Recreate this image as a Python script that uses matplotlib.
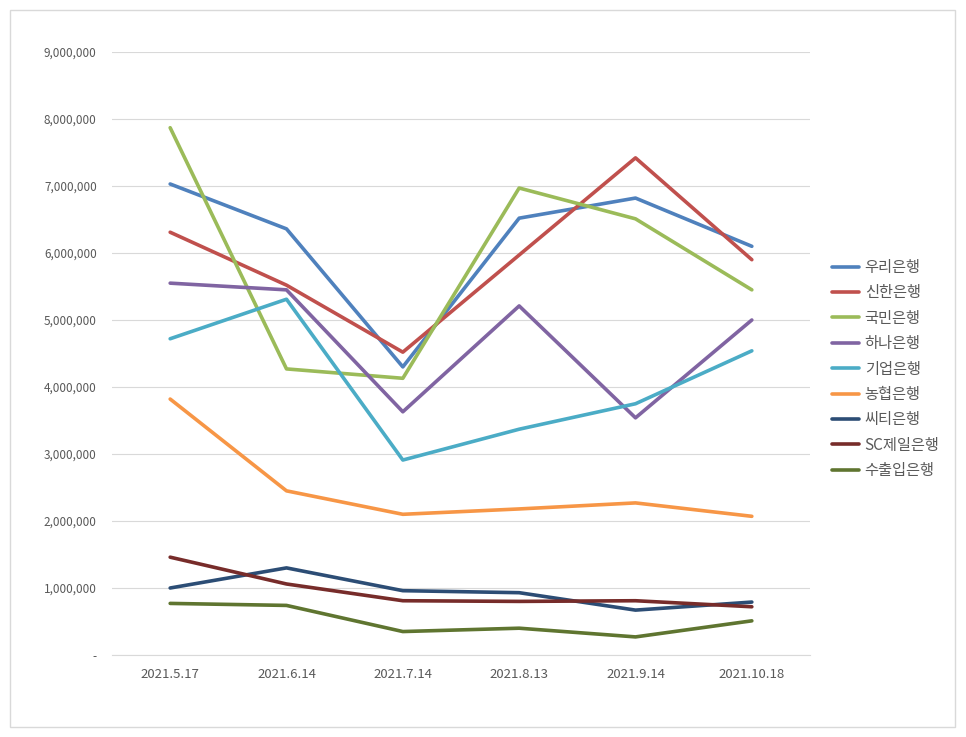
import matplotlib.pyplot as plt
from matplotlib.patches import Rectangle
from matplotlib.ticker import FuncFormatter

plt.rcParams['font.family'] = ['Noto Sans CJK KR', 'DejaVu Sans']

dates = ["2021.5.17", "2021.6.14", "2021.7.14", "2021.8.13", "2021.9.14", "2021.10.18"]
banks = ["우리은행", "신한은행", "국민은행", "하나은행", "기업은행",
         "농협은행", "씨티은행", "SC제일은행", "수출입은행"]

woori = [7030000, 6360000, 4300000, 6520000, 6820000, 6100000]
shinhan = [6310000, 5520000, 4520000, 5970000, 7420000, 5900000]
kookmin = [7870000, 4270000, 4130000, 6970000, 6510000, 5450000]
hana = [5550000, 5450000, 3630000, 5210000, 3540000, 5000000]
ibk = [4720000, 5310000, 2910000, 3370000, 3750000, 4540000]
nonghyup = [3820000, 2450000, 2100000, 2180000, 2270000, 2070000]
citi = [1000000, 1300000, 960000, 930000, 670000, 790000]
sc = [1460000, 1060000, 810000, 800000, 810000, 720000]
exim = [770000, 740000, 350000, 400000, 270000, 510000]

series = [woori, shinhan, kookmin, hana, ibk, nonghyup, citi, sc, exim]
colors = ["#4F81BD", "#C0504D", "#9BBB59", "#8064A2", "#4BACC6",
          "#F79646", "#2C4D75", "#772C2A", "#5F7530"]

fig = plt.figure(figsize=(9.66, 7.37), dpi=100)
fig.patches.append(Rectangle((10 / 966, 1 - 727 / 737), 945 / 966, 717 / 737,
                             transform=fig.transFigure, fill=False,
                             edgecolor="#D9D9D9", linewidth=1))

ax = fig.add_axes([112 / 966, 1 - 655 / 737, 698 / 966, 603 / 737])
x = range(len(dates))
for name, vals, c in zip(banks, series, colors):
    ax.plot(x, vals, color=c, linewidth=2.6, label=name, solid_capstyle="round")

ax.set_xlim(-0.5, len(dates) - 0.5)
ax.set_ylim(0, 9000000)
ax.set_yticks(range(0, 9000001, 1000000))
ax.yaxis.set_major_formatter(FuncFormatter(lambda v, p: "-" if v == 0 else f"{int(v):,}"))
ax.set_xticks(list(x))
ax.set_xticklabels(dates)
ax.grid(axis="y", color="#D9D9D9", linewidth=0.8)
ax.set_axisbelow(True)
for s in ax.spines.values():
    s.set_visible(False)
ax.spines["bottom"].set_visible(True)
ax.spines["bottom"].set_color("#D9D9D9")
ax.tick_params(axis="both", length=0, colors="#595959")
ax.tick_params(axis="y", pad=11, labelsize=8.5)
ax.tick_params(axis="x", pad=9, labelsize=9.5)

fig.legend(loc="center left", bbox_to_anchor=(818 / 966, 1 - 369 / 737),
           frameon=False, fontsize=11, handlelength=1.8, labelspacing=0.55,
           handletextpad=0.35, labelcolor="#595959")

fig.savefig("out.png", dpi=100)
